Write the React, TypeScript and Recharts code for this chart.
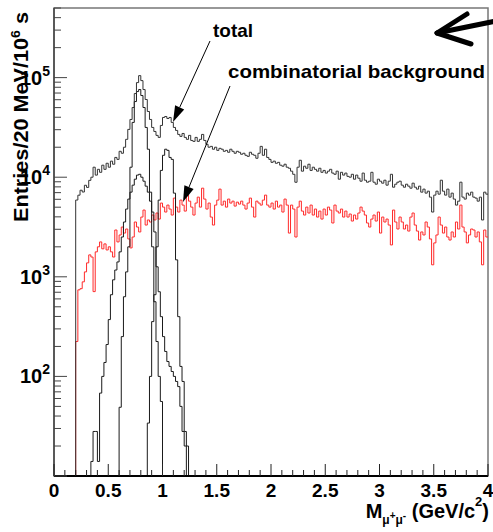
import { LineChart, Line, XAxis, YAxis, ReferenceArea } from 'recharts';

const BIN = 0.02; // 20 MeV bins
const EMPTY_BIN = 1; // zero entries -> below the log floor, clipped away
const X_MAX = 4;
const Y_MIN = 10;
const Y_MAX = 5e5;

// total, bins starting at 0.20 GeV/c^2
const TOTAL_START = 0.2;
const totalCounts = [
  5900, 6600, 7400, 7100, 8300, 7900, 9300, 10000, 12600, 10500,
  12000, 11200, 13200, 12000, 13800, 12600, 14500, 13500, 15800, 15100,
  18200, 17400, 20000, 24000, 30200, 38000, 50100, 69200, 89100, 104700,
  93300, 75900, 60300, 45700, 38000, 31600, 28800, 26300, 25100, 33100,
  39800, 40700, 38900, 39800, 35500, 31600, 29500, 26900, 25700, 27500,
  25100, 24000, 26300, 23400, 22900, 25100, 22900, 24000, 26900, 23400,
  21400, 20000, 20400, 19100, 20000, 18600, 19500, 19100, 18200, 18600,
  17800, 19100, 18200, 17400, 18200, 17800, 17000, 17400, 16600, 16200,
  17800, 17000, 16600, 15500, 17400, 20400, 16600, 19100, 15800, 15100,
  14100, 14500, 13800, 14100, 13200, 12900, 13500, 12600, 12300, 11500,
  10700, 8900, 12600, 14800, 11500, 12900, 12300, 13500, 11700, 12600,
  12000, 11500, 12300, 11200, 11700, 11000, 11500, 12000, 11000, 10700,
  11500, 9550, 11200, 10500, 11000, 10200, 10000, 10700, 9550, 10500,
  9770, 9120, 11000, 9330, 8910, 9120, 11200, 8910, 8510, 9550,
  9120, 8710, 9330, 8320, 9120, 10700, 7940, 8510, 8910, 9120,
  8320, 7940, 8510, 8130, 7760, 8710, 7940, 7590, 8130, 7080,
  7590, 6920, 7240, 6310, 4470, 6610, 7240, 6760, 9330, 7240,
  6610, 7590, 6310, 6920, 6030, 5250, 5750, 8910, 6310, 6030,
  6920, 6610, 7080, 6310, 6170, 5750, 6310, 3720, 7080, 6760,
];

// combinatorial background, bins starting at 0
const COMB_START = 0;
const combCounts = [
  10, 10, 10, 10, 10, 10, 10, 10, 10, 10,
  224, 740, 760, 890, 1120, 1380, 1660, 1580, 710, 1780,
  2000, 2240, 1910, 2140, 1860, 2000, 1780, 1580, 2950, 2240,
  2630, 3160, 2750, 3020, 2400, 1950, 2510, 3550, 3160, 2820,
  3980, 4680, 3310, 3720, 3550, 4170, 3720, 4370, 3800, 5500,
  5010, 4470, 5250, 4790, 4170, 6170, 5010, 4470, 5890, 5250,
  4570, 6920, 5750, 5010, 4170, 5500, 6310, 5010, 7760, 6030,
  4790, 5500, 3980, 3310, 5250, 5890, 7590, 5250, 5750, 5010,
  6030, 5500, 5750, 5130, 5620, 5370, 5750, 5250, 4790, 5500,
  6170, 5010, 3980, 5750, 5500, 5250, 5890, 6610, 5250, 5010,
  5500, 4790, 5750, 5010, 5250, 4470, 6030, 5250, 2750, 5250,
  4790, 2510, 5010, 5750, 4570, 4170, 5010, 4370, 5250, 4170,
  4790, 3980, 4570, 3800, 4790, 4170, 5010, 4680, 3470, 5250,
  4570, 4370, 4790, 3980, 4570, 3980, 4270, 3630, 4170, 3800,
  4370, 5010, 4570, 4170, 3470, 3160, 3800, 4170, 3630, 4470,
  2750, 3980, 3550, 3800, 3310, 2090, 4680, 3550, 3020, 3980,
  3550, 3020, 3310, 2880, 3980, 4370, 3310, 2880, 2340, 2820,
  2630, 3550, 3160, 2400, 1320, 2190, 2630, 3980, 3310, 2750,
  3160, 2510, 2340, 2820, 2510, 3550, 3020, 5250, 3160, 2820,
  2190, 2630, 3020, 2950, 2510, 2820, 2240, 1320, 2950, 2510,
];

// narrow tall resonance peak
const NARROW_START = 0.6;
const narrowCounts = [
  49, 251, 631, 1120, 2000, 12600, 35500, 57500, 72400, 75900,
  66100, 50100, 31600, 19100, 7080, 2000, 562, 224, 100, 56,
];

// broad peak under it
const BROAD_START = 0.34;
const broadCounts = [
  14, 28, 28, 14, 68, 100, 138, 209, 372, 661,
  933, 1170, 1410, 1780, 2510, 3550, 4790, 6030, 7080, 8320,
  9550, 10500, 10700, 10000, 9120, 8130, 7080, 5750, 4470, 2820,
  1260, 708, 398, 251, 178, 141, 126, 112, 100, 89,
  79, 50, 28, 20,
];

// phi peak
const PHI_START = 0.86;
const phiCounts = [
  34, 100, 355, 661, 2000, 5890, 11700, 16600, 19100, 18600,
  15800, 15100, 6920, 1480, 398, 126, 89, 28, 20,
];

const xLabelled = [0, 0.5, 1, 1.5, 2, 2.5, 3, 3.5, 4];
const yLabelledExp = [2, 3, 4, 5];

const FONT = '"Liberation Sans", Arial, Helvetica, sans-serif';

function toSteps(start: number, counts: number[], rise: boolean, drop: boolean) {
  const pts: { m: number; n: number }[] = [];
  if (rise) pts.push({ m: start, n: EMPTY_BIN });
  counts.forEach((c, i) => pts.push({ m: +(start + i * BIN).toFixed(2), n: c }));
  const end = +(start + counts.length * BIN).toFixed(2);
  pts.push({ m: end, n: drop ? EMPTY_BIN : counts[counts.length - 1] });
  return pts;
}

const totalData = toSteps(TOTAL_START, totalCounts, true, false);
const combData = toSteps(COMB_START, combCounts, false, false);
const narrowData = toSteps(NARROW_START, narrowCounts, true, true);
const broadData = toSteps(BROAD_START, broadCounts, true, true);
const phiData = toSteps(PHI_START, phiCounts, true, true);

// every 0.1 on x, mantissas 1..9 per decade on y
const xTicks = Array.from({ length: 41 }, (_, i) => +(i * 0.1).toFixed(1));
const yTicks: number[] = [];
for (let d = 10; d <= Y_MAX; d *= 10) {
  for (let k = 1; k <= 9; k++) if (k * d <= Y_MAX) yTicks.push(k * d);
}

function XTick(props: any) {
  const { x, y, payload } = props;
  const v = payload.value as number;
  const major = xLabelled.some(l => Math.abs(l - v) < 1e-6);
  return (
    <g>
      <line x1={x} x2={x} y1={y} y2={y - (major ? 12 : 6)} stroke="#222" strokeWidth={1} />
      {major && (
        <text x={x} y={y + 21} textAnchor="middle" fontFamily={FONT} fontWeight={700} fontSize={19} fill="#000">
          {String(v)}
        </text>
      )}
    </g>
  );
}

function YTick(props: any) {
  const { x, y, payload } = props;
  const v = payload.value as number;
  const lg = Math.log10(v);
  const exp = Math.round(lg);
  const major = Math.abs(lg - exp) < 1e-6;
  return (
    <g>
      <line x1={x} x2={x + (major ? 13 : 7)} y1={y} y2={y} stroke="#444" strokeWidth={1} />
      {major && yLabelledExp.includes(exp) && (
        <text x={x - 4} y={y + 7} textAnchor="end" fontFamily={FONT} fontWeight={700} fontSize={20} fill="#000">
          10<tspan dy={-9} fontSize={14}>{exp}</tspan>
        </text>
      )}
    </g>
  );
}

function ThinArrow({ x1, y1, x2, y2 }: { x1: number; y1: number; x2: number; y2: number }) {
  const dx = x2 - x1;
  const dy = y2 - y1;
  const len = Math.hypot(dx, dy);
  const ux = dx / len;
  const uy = dy / len;
  const bx = x2 - 16 * ux;
  const by = y2 - 16 * uy;
  const nx = -uy * 5;
  const ny = ux * 5;
  return (
    <g>
      <line x1={x1} y1={y1} x2={bx} y2={by} stroke="#000" strokeWidth={1} />
      <polygon points={`${x2},${y2} ${bx + nx},${by + ny} ${bx - nx},${by - ny}`} fill="#000" />
    </g>
  );
}

export default function App() {
  return (
    <div style={{ position: 'absolute', left: 0, top: 0, width: 493, height: 532, background: '#fff' }}>
      <LineChart width={493} height={532} margin={{ top: 8, right: 5, bottom: 0, left: 0 }}>
        <ReferenceArea x1={0} x2={X_MAX} y1={Y_MIN} y2={Y_MAX} fill="none" stroke="#777" strokeWidth={1.5} />
        <Line data={combData} dataKey="n" type="stepAfter" stroke="#ff2a2a" strokeWidth={1} dot={false} isAnimationActive={false} />
        <Line data={broadData} dataKey="n" type="stepAfter" stroke="#1a1a1a" strokeWidth={1} dot={false} isAnimationActive={false} />
        <Line data={phiData} dataKey="n" type="stepAfter" stroke="#1a1a1a" strokeWidth={1} dot={false} isAnimationActive={false} />
        <Line data={narrowData} dataKey="n" type="stepAfter" stroke="#1a1a1a" strokeWidth={1} dot={false} isAnimationActive={false} />
        <Line data={totalData} dataKey="n" type="stepAfter" stroke="#333" strokeWidth={1} dot={false} isAnimationActive={false} />
        <XAxis
          dataKey="m"
          type="number"
          domain={[0, X_MAX]}
          allowDataOverflow
          ticks={xTicks}
          interval={0}
          tickSize={0}
          tickMargin={0}
          tickLine={false}
          tick={(p: any) => <XTick {...p} />}
          axisLine={{ stroke: '#000', strokeWidth: 2 }}
          height={56}
        />
        <YAxis
          type="number"
          scale="log"
          domain={[Y_MIN, Y_MAX]}
          allowDataOverflow
          ticks={yTicks}
          interval={0}
          tickSize={0}
          tickMargin={0}
          tickLine={false}
          tick={(p: any) => <YTick {...p} />}
          axisLine={{ stroke: '#444', strokeWidth: 1.5 }}
          width={54}
        />
      </LineChart>
      <svg
        width={493}
        height={532}
        style={{ position: 'absolute', left: 0, top: 0, pointerEvents: 'none' }}
        fontFamily={FONT}
        fontWeight={700}
      >
        <text
          transform="translate(28 12) rotate(-90)"
          textAnchor="end"
          fontSize={20}
          textLength={210}
          lengthAdjust="spacingAndGlyphs"
        >
          Entries/20 MeV/10<tspan dy={-8} fontSize={13}>6</tspan>
          <tspan dy={8} fontSize={20}> s</tspan>
        </text>
        <text x={489} y={518} textAnchor="end" fontSize={20}>
          M<tspan fontSize={12} dy={6}>μ</tspan>
          <tspan fontSize={10} dy={-5}>+</tspan>
          <tspan fontSize={12} dy={5}>μ</tspan>
          <tspan fontSize={10} dy={-5}>-</tspan>
          <tspan fontSize={20} dy={-1}> (GeV/c</tspan>
          <tspan fontSize={13} dy={-12}>2</tspan>
          <tspan fontSize={20} dy={12}>)</tspan>
        </text>
        <text x={213} y={37} fontSize={19} textLength={40} lengthAdjust="spacingAndGlyphs">total</text>
        <text x={228} y={78} fontSize={19} textLength={257} lengthAdjust="spacingAndGlyphs">combinatorial background</text>
        <ThinArrow x1={210} y1={41} x2={173} y2={122} />
        <ThinArrow x1={230} y1={86} x2={183} y2={202} />
        <polyline points="467,14 437,33 471,44" fill="none" stroke="#000" strokeWidth={5} strokeLinecap="round" strokeLinejoin="round" />
        <line x1={437} y1={33} x2={496} y2={21} stroke="#000" strokeWidth={5} strokeLinecap="round" />
      </svg>
    </div>
  );
}
